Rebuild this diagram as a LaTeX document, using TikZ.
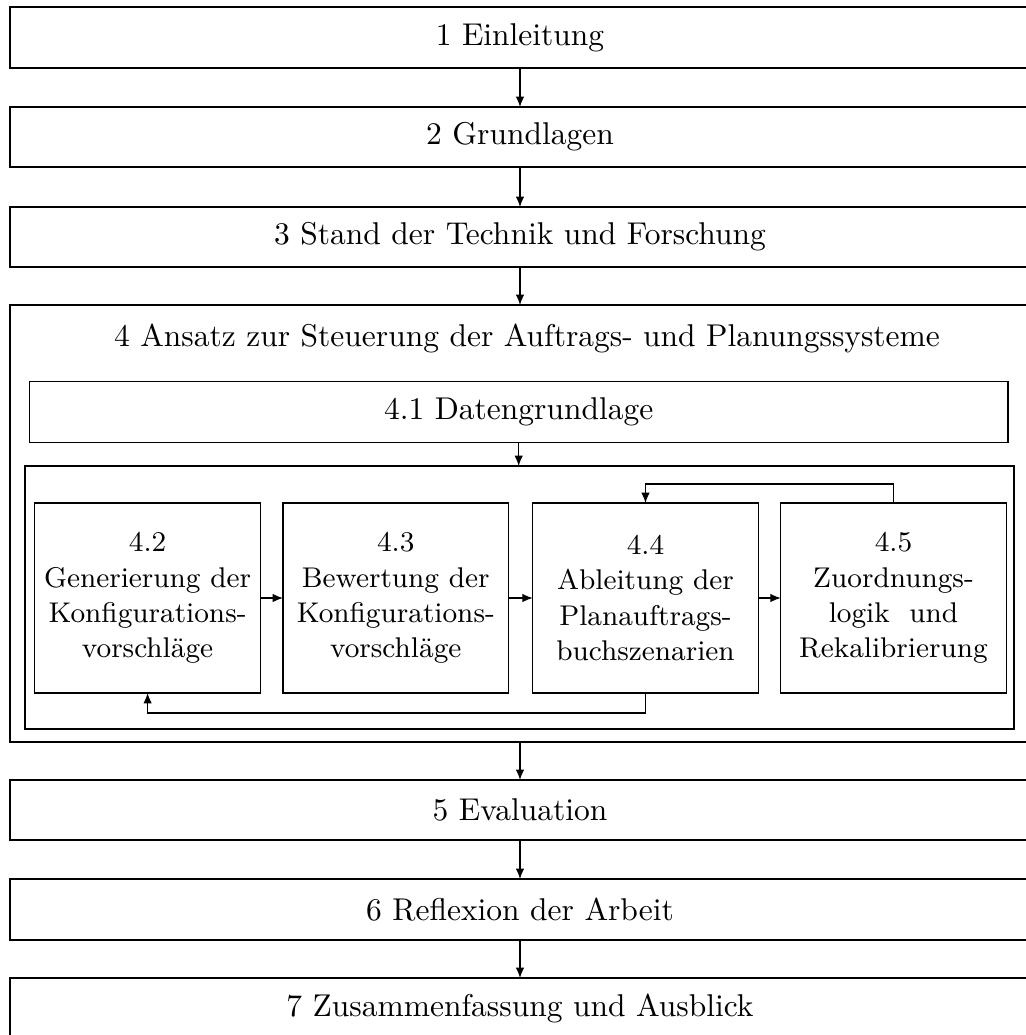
\documentclass[tikz,border=0pt]{standalone}
\usetikzlibrary{arrows.meta}
\newlength\px
\setlength\px{0.3175pt}
\begin{document}
\begin{tikzpicture}[x=1\px,y=-1\px,
  box/.style={draw,rectangle,inner sep=0pt,outer sep=0pt,align=center,line width=0.4pt},
  mainbox/.style={box,minimum width=1020\px},
  subbox/.style={box,minimum width=225.5\px,minimum height=190\px,
    font=\fontsize{9.05pt}{11.2pt}\selectfont},
  arr/.style={-{Latex[length=3.3pt,width=2.7pt]},line width=0.4pt}]
\useasboundingbox (0,0) rectangle (1026,1035);
\clip (0,0) rectangle (1026,1035);

% chapter boxes
\node[mainbox,minimum height=61\px] (b1) at (520,37.5) {1 Einleitung};
\node[mainbox,minimum height=60\px] (b2) at (520,137) {2 Grundlagen};
\node[mainbox,minimum height=60\px] (b3) at (520,237) {3 Stand der Technik und Forschung};
\node[mainbox,minimum height=437\px] (b4) at (520,523.5) {};
\node[inner sep=0pt] (b4t) at (527,338) {4 Ansatz zur Steuerung der Auftrags- und Planungssysteme};
\node[box,minimum width=978.5\px,minimum height=61\px] (b41) at (518.7,412.2) {4.1 Datengrundlage};
\node[box,minimum width=989\px,minimum height=263\px] (cont) at (519.5,597.5) {};
\node[mainbox,minimum height=60\px] (b5) at (520,810) {5 Evaluation};
\node[mainbox,minimum height=61\px] (b6) at (520,909.5) {6 Reflexion der Arbeit};
\node[mainbox,minimum height=61\px] (b7) at (520,1008.5) {7 Zusammenfassung und Ausblick};

% section boxes of chapter 4
\node[subbox] (s42) at (147.6,598) {4.2\\Generierung der\\Konfigurations-\\vorschläge};
\node[subbox] (s43) at (395.8,598) {4.3\\Bewertung der\\Konfigurations-\\vorschläge};
\node[subbox] (s44) at (645.5,598) {4.4\\Ableitung der\\Planauftrags-\\buchszenarien};
\node[subbox] (s45) at (893.5,598) {4.5\\Zuordnungs-\\logik\ \ und\\Rekalibrierung};

% main flow
\draw[arr] (b1.south) -- (b2.north);
\draw[arr] (b2.south) -- (b3.north);
\draw[arr] (b3.south) -- (b4.north);
\draw[arr] (b41.south) -- (b41.south |- cont.north);
\draw[arr] (b4.south) -- (b5.north);
\draw[arr] (b5.south) -- (b6.north);
\draw[arr] (b6.south) -- (b7.north);

% flow between sections
\draw[arr] (s42.east) -- (s43.west);
\draw[arr] (s43.east) -- (s44.west);
\draw[arr] (s44.east) -- (s45.west);

% feedback loops
\coordinate (fbtop) at (893.5,484);
\coordinate (fbbot) at (645.5,713);
\draw[arr] (s45.north) -- (fbtop) -| (s44.north);
\draw[arr] (s44.south) -- (fbbot) -| (s42.south);
\end{tikzpicture}
\end{document}
